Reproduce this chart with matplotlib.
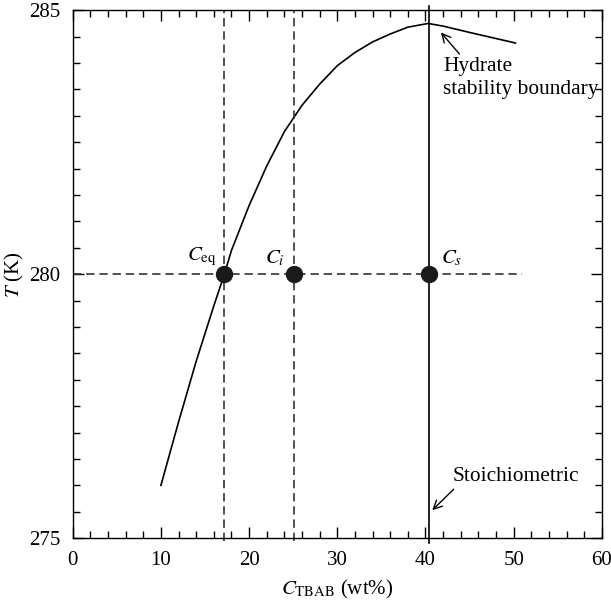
import matplotlib
matplotlib.use('Agg')
import matplotlib.pyplot as plt
from matplotlib.ticker import MultipleLocator

plt.rcParams['font.family'] = ['Liberation Serif', 'DejaVu Serif']
plt.rcParams['mathtext.fontset'] = 'stix'
plt.rcParams['lines.scale_dashes'] = False

# hydrate stability boundary
curve_x = [10.0, 12.0, 14.0, 16.0, 17.2, 18.0, 20.0, 22.0, 24.0, 26.0, 28.0, 30.0,
           32.0, 34.0, 36.0, 38.0, 40.3, 42.0, 45.0, 50.2]
curve_T = [276.0, 277.2, 278.35, 279.4, 280.0, 280.45, 281.3, 282.05, 282.7, 283.2,
           283.6, 283.95, 284.2, 284.4, 284.55, 284.68, 284.75, 284.7, 284.58, 284.38]

# the three concentrations at T = 280 K
c_eq = 17.2
c_i = 25.1
c_s = 40.4
T_op = 280.0
point_x = [c_eq, c_i, c_s]
point_T = [T_op, T_op, T_op]

fig = plt.figure(figsize=(6.11, 6.04), dpi=100)
ax = fig.add_axes([0.119, 0.109, 0.866, 0.874])

ax.plot(curve_x, curve_T, color='black', lw=1.2)

# dashed guides
dash = dict(color='#333333', lw=1.2, dashes=(6, 3.5), clip_on=False)
ax.plot([0, 51], [T_op, T_op], **dash)
ax.plot([c_eq, c_eq], [274.95, 285.0], **dash)
ax.plot([c_i, c_i], [274.95, 285.0], **dash)
ax.plot([c_s, c_s], [274.9, 285.08], color='black', lw=1.2, clip_on=False)

ax.plot(point_x, point_T, 'o', color='#1a1a1a', ms=11.5, zorder=5)

ax.text(16.3, 280.12, r'$C_{\mathrm{eq}}$', ha='right', va='bottom', fontsize=15)
ax.text(24.0, 280.12, r'$C_i$', ha='right', va='bottom', fontsize=15)
ax.text(41.8, 280.12, r'$C_s$', ha='left', va='bottom', fontsize=15)

ax.annotate('Hydrate\nstability boundary', xy=(41.75, 284.58), xytext=(42.0, 283.72),
            ha='left', va='center', fontsize=15.4, linespacing=1.3,
            arrowprops=dict(arrowstyle='->', color='black', lw=1.0, shrinkA=0, shrinkB=0,
                            relpos=(0.12, 1.0)))
ax.annotate('Stoichiometric', xy=(40.77, 275.53), xytext=(43.1, 276.16),
            ha='left', va='center', fontsize=15.4,
            arrowprops=dict(arrowstyle='->', color='black', lw=1.0, shrinkA=0, shrinkB=0,
                            relpos=(0.03, 0.0)))

ax.set_xlim(0, 60)
ax.set_ylim(275, 285)
ax.set_xticks([0, 10, 20, 30, 40, 50, 60])
ax.set_yticks([275, 280, 285])
ax.xaxis.set_minor_locator(MultipleLocator(2))
ax.yaxis.set_minor_locator(MultipleLocator(0.5))
ax.tick_params(which='both', direction='in', top=True, right=True, labelsize=15, width=1.0)
ax.tick_params(which='major', length=8, pad=9)
ax.tick_params(which='minor', length=5)
for s in ax.spines.values():
    s.set_linewidth(1.0)

ax.set_xlabel(r'$C_{\mathrm{TBAB}}$ (wt%)', fontsize=15, labelpad=6)
ax.set_ylabel(r'$T$ (K)', fontsize=15, labelpad=2)

fig.savefig('out.png', dpi=100)
